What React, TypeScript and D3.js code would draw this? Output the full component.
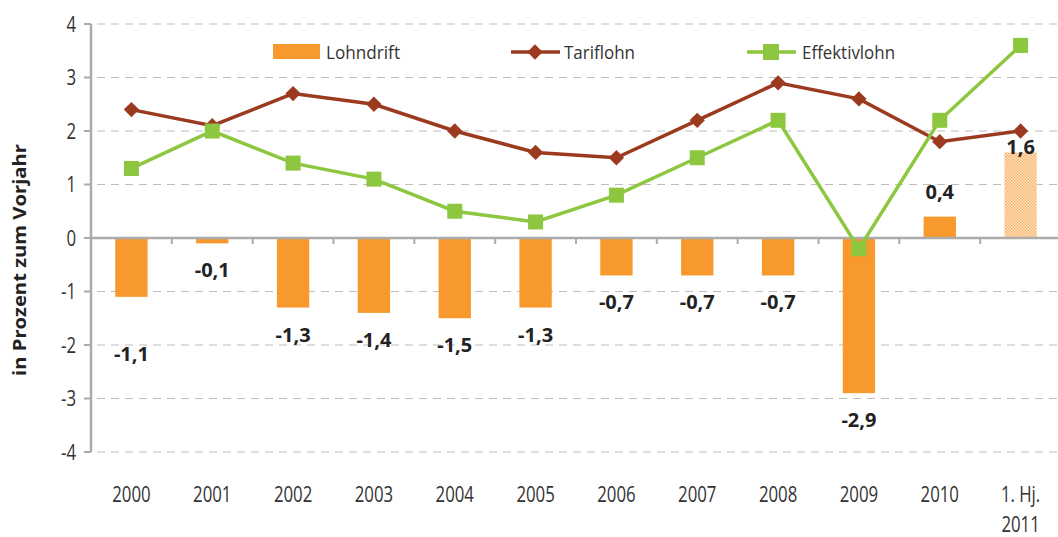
import React from 'react';
import * as d3 from 'd3';

const WIDTH = 1058;
const HEIGHT = 537;
const MARGIN = { top: 24, left: 91, right: -3, bottom: 85 };

const categories = ['2000', '2001', '2002', '2003', '2004', '2005', '2006', '2007', '2008', '2009', '2010', '2011'];
const tickLabels = [['2000'], ['2001'], ['2002'], ['2003'], ['2004'], ['2005'], ['2006'], ['2007'], ['2008'], ['2009'], ['2010'], ['1. Hj.', '2011']];
const lohndrift = [-1.1, -0.1, -1.3, -1.4, -1.5, -1.3, -0.7, -0.7, -0.7, -2.9, 0.4, 1.6];
const tariflohn = [2.4, 2.1, 2.7, 2.5, 2.0, 1.6, 1.5, 2.2, 2.9, 2.6, 1.8, 2.0];
const effektivlohn = [1.3, 2.0, 1.4, 1.1, 0.5, 0.3, 0.8, 1.5, 2.2, -0.2, 2.2, 3.6];
const yTicks = [4, 3, 2, 1, 0, -1, -2, -3, -4];

const ORANGE = '#F7992D';
const BROWN = '#9B3A1F';
const GREEN = '#8DC63F';
const GRID = '#BDBDBD';
const AXIS = '#ABABAB';
const TEXT = '#222';
const FONT = '"Open Sans", sans-serif';

// a few labels were moved by hand in the original
const labelNudge: Record<number, number> = { 0: 30, 11: 20 };

const App = () => {
  const x = d3
    .scaleBand()
    .domain(categories)
    .range([MARGIN.left, WIDTH - MARGIN.right])
    .paddingInner(0.6)
    .paddingOuter(0.3);
  const y = d3.scaleLinear().domain([-4, 4]).range([HEIGHT - MARGIN.bottom, MARGIN.top]);
  const cx = (c: string) => (x(c) ?? 0) + x.bandwidth() / 2;
  const step = x.step();
  const line = d3
    .line<number>()
    .x((_, i) => cx(categories[i]))
    .y((d) => y(d));
  const diamond = d3.symbol(d3.symbolDiamond2, 150)();
  const fmt = (v: number) => v.toFixed(1).replace('.', ',');

  return (
    <svg width={WIDTH} height={HEIGHT} style={{ position: 'absolute', left: 0, top: 0 }}>
      <defs>
        <pattern id="dots" width="3" height="3" patternUnits="userSpaceOnUse">
          <rect width="3" height="3" fill="#FDE3C4" />
          <rect width="1.5" height="1.5" fill="#F9B56A" />
          <rect x="1.5" y="1.5" width="1.5" height="1.5" fill="#F9B56A" />
        </pattern>
      </defs>
      <rect width={WIDTH} height={HEIGHT} fill="#fff" />

      {/* grid */}
      {yTicks.filter((t) => t !== 0).map((t) => (
        <line key={t} x1={MARGIN.left + 6} x2={WIDTH} y1={y(t)} y2={y(t)} stroke={GRID} strokeWidth={1.2} strokeDasharray="8,6" />
      ))}

      {/* y axis */}
      <line x1={MARGIN.left} x2={MARGIN.left} y1={y(4)} y2={y(-4)} stroke={AXIS} strokeWidth={2.5} />
      {yTicks.map((t) => (
        <g key={t}>
          <line x1={MARGIN.left - 7} x2={MARGIN.left} y1={y(t)} y2={y(t)} stroke={AXIS} strokeWidth={2} />
          <text x={76} y={y(t)} dy="0.36em" textAnchor="end" fontFamily={FONT} fontSize={21} fill="#333"
            transform={`translate(76,0) scale(0.8,1) translate(-76,0)`}>
            {t}
          </text>
        </g>
      ))}
      <text
        transform={`translate(26,${(y(4) + y(-4)) / 2 + 22}) rotate(-90)`}
        textAnchor="middle"
        fontFamily={FONT}
        fontSize={18}
        fontWeight={700}
        fill={TEXT}
        textLength={232}
        lengthAdjust="spacingAndGlyphs"
      >
        in Prozent zum Vorjahr
      </text>

      {/* bars */}
      {lohndrift.map((v, i) => (
        <rect
          key={i}
          x={x(categories[i])}
          width={x.bandwidth()}
          y={Math.min(y(v), y(0))}
          height={Math.abs(y(v) - y(0))}
          fill={i === categories.length - 1 ? 'url(#dots)' : ORANGE}
        />
      ))}

      {/* zero line and x ticks */}
      <line x1={MARGIN.left} x2={WIDTH} y1={y(0)} y2={y(0)} stroke={AXIS} strokeWidth={2.5} />
      {categories.map((c, i) => (
        <line key={c} x1={MARGIN.left + step * i} x2={MARGIN.left + step * i} y1={y(0)} y2={y(0) + 6} stroke={AXIS} strokeWidth={2} />
      ))}
      {tickLabels.map((lines, i) =>
        lines.map((l, j) => (
          <text
            key={`${i}-${j}`}
            x={cx(categories[i])}
            y={494 + j * 30}
            dy="0.36em"
            textAnchor="middle"
            fontFamily={FONT}
            fontSize={21}
            fill="#333"
            transform={`translate(${cx(categories[i])},0) scale(0.8,1) translate(${-cx(categories[i])},0)`}
          >
            {l}
          </text>
        ))
      )}

      {/* lines */}
      <path d={line(tariflohn) ?? ''} fill="none" stroke={BROWN} strokeWidth={3.5} />
      {tariflohn.map((v, i) => (
        <path key={i} d={diamond ?? ''} transform={`translate(${cx(categories[i])},${y(v)})`} fill={BROWN} />
      ))}
      <path d={line(effektivlohn) ?? ''} fill="none" stroke={GREEN} strokeWidth={3.5} />
      {effektivlohn.map((v, i) => (
        <rect key={i} x={cx(categories[i]) - 7.5} y={y(v) - 7.5} width={15} height={15} fill={GREEN} />
      ))}

      {/* data labels */}
      {lohndrift.map((v, i) => (
        <text
          key={i}
          x={cx(categories[i])}
          y={(v < 0 ? y(v) + 27 : y(v) - 25) + (labelNudge[i] ?? 0)}
          dy="0.35em"
          textAnchor="middle"
          fontFamily={FONT}
          fontSize={20}
          fontWeight={700}
          fill={TEXT}
        >
          {fmt(v)}
        </text>
      ))}

      {/* legend */}
      <g fontFamily={FONT} fontSize={19} fill="#333">
        <rect x={273} y={44} width={47} height={15} fill={ORANGE} />
        <text x={326} y={52} dy="0.36em" textLength={74} lengthAdjust="spacingAndGlyphs">Lohndrift</text>
        <line x1={511} x2={560} y1={52} y2={52} stroke={BROWN} strokeWidth={3.5} />
        <path d={diamond ?? ''} transform="translate(535,52)" fill={BROWN} />
        <text x={564} y={52} dy="0.36em" textLength={71} lengthAdjust="spacingAndGlyphs">Tariflohn</text>
        <line x1={747} x2={796} y1={52} y2={52} stroke={GREEN} strokeWidth={3.5} />
        <rect x={763} y={44} width={16} height={16} fill={GREEN} />
        <text x={802} y={52} dy="0.36em" textLength={93} lengthAdjust="spacingAndGlyphs">Effektivlohn</text>
      </g>
    </svg>
  );
};

export default App;
